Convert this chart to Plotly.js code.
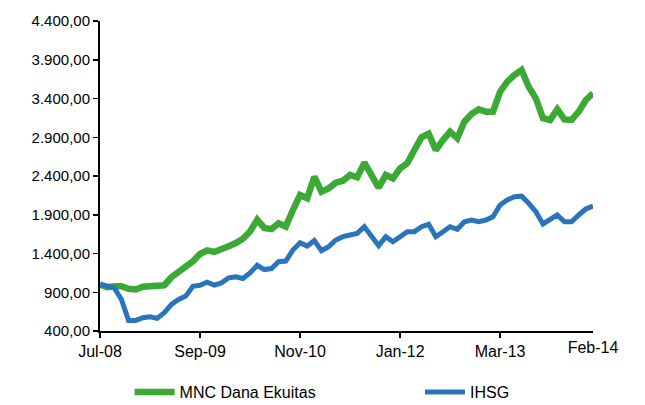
<!DOCTYPE html>
<html>
<head>
<meta charset="utf-8">
<script src="https://cdn.plot.ly/plotly-3.0.1.min.js"></script>
<style>html,body{margin:0;padding:0;background:#fff;}#chart{width:645px;height:405px;}</style>
</head>
<body>
<div id="chart"></div>
<script>
const tickLabels = ["Jul-08", "Sep-09", "Nov-10", "Jan-12", "Mar-13"];
const tickIndex = [0, 14, 28, 42, 56];
const endLabel = ["Feb-14"];
const endIndex = [69];
const mnc = [1000, 965, 978, 978, 944, 935, 970, 978, 978, 990,
  1094, 1158, 1214, 1300, 1394, 1440, 1420, 1450, 1493, 1535,
  1590, 1685, 1835, 1730, 1715, 1790, 1747, 1961, 2155, 2112,
  2391, 2197, 2240, 2313, 2339, 2413, 2383, 2572, 2413, 2249,
  2413, 2370, 2499, 2564, 2735, 2899, 2945, 2735, 2864, 2972,
  2886, 3101, 3200, 3261, 3230, 3230, 3488, 3617, 3703, 3768,
  3552, 3402, 3145, 3123, 3261, 3130, 3123, 3230, 3381, 3467];
const ihsg = [1000, 978, 957, 807, 537, 537, 571, 584, 563, 636,
  743, 807, 850, 978, 991, 1030, 991, 1021, 1086, 1098,
  1077, 1150, 1248, 1193, 1206, 1294, 1303, 1445, 1540, 1497,
  1566, 1436, 1488, 1574, 1617, 1639, 1660, 1746, 1617, 1501,
  1617, 1552, 1617, 1682, 1682, 1746, 1776, 1617, 1681, 1746,
  1712, 1810, 1832, 1810, 1832, 1875, 2026, 2090, 2133, 2140,
  2048, 1939, 1781, 1841, 1897, 1810, 1810, 1897, 1974, 2013];
const seriesNames = ["MNC Dana Ekuitas", "IHSG"];

const idx = mnc.map((_, i) => i);
const fam = "Liberation Sans, Arial, sans-serif";
const yFont = {family: fam, size: 15, color: "#000"};
const xFont = {family: fam, size: 16, color: "#000"};
const legFont = {family: fam, size: 16, color: "#000"};

const traces = [
  {x: idx, y: mnc, name: seriesNames[0], type: "scatter", mode: "lines",
   line: {color: "#3aaa35", width: 6.5}, legend: "legend"},
  {x: idx, y: ihsg, name: seriesNames[1], type: "scatter", mode: "lines",
   line: {color: "#2a74bb", width: 5}, legend: "legend2"},
  {x: endIndex, y: [null], xaxis: "x2", yaxis: "y", type: "scatter", mode: "lines",
   showlegend: false, hoverinfo: "skip"}
];

const legBase = {orientation: "h", xanchor: "left", y: -0.197, yanchor: "middle",
                 font: legFont, itemwidth: 40, bgcolor: "rgba(0,0,0,0)"};

const layout = {
  width: 645, height: 405,
  margin: {l: 100, r: 52, t: 21, b: 74, autoexpand: false},
  paper_bgcolor: "#fff", plot_bgcolor: "#fff",
  separators: ",.",
  font: yFont,
  showlegend: true,
  legend: Object.assign({}, legBase, {x: 0.06}),
  legend2: Object.assign({}, legBase, {x: 0.649}),
  xaxis: {range: [0, 69], tickmode: "array", tickvals: tickIndex, ticktext: tickLabels,
          showgrid: false, zeroline: false, showline: true, linecolor: "#000", linewidth: 2,
          ticks: "outside", ticklen: 5, tickwidth: 1.5, tickcolor: "#000", tickfont: xFont,
          fixedrange: true},
  xaxis2: {range: [0, 69], overlaying: "x", anchor: "y", side: "bottom",
           tickmode: "array", tickvals: endIndex, ticktext: endLabel,
           showgrid: false, zeroline: false, showline: false, ticks: "",
           ticklabelstandoff: 5, tickfont: xFont, fixedrange: true},
  yaxis: {range: [400, 4400], tick0: 400, dtick: 500, tickformat: ",.2f",
          showgrid: false, zeroline: false, showline: true, linecolor: "#000", linewidth: 2,
          ticks: "outside", ticklen: 5, tickwidth: 1.5, tickcolor: "#000", tickfont: yFont,
          fixedrange: true}
};

Plotly.newPlot("chart", traces, layout, {displayModeBar: false, staticPlot: true});
</script>
</body>
</html>
